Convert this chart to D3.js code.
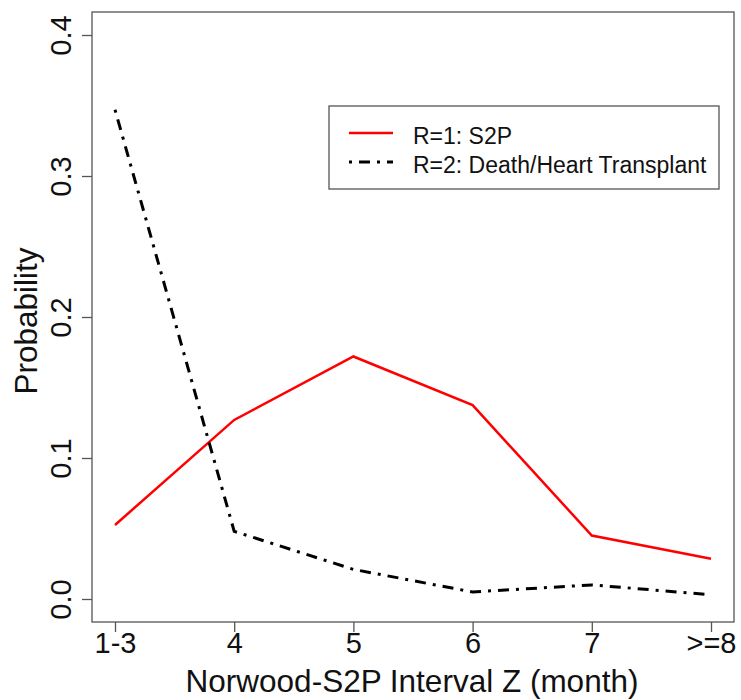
<!DOCTYPE html>
<html>
<head>
<meta charset="utf-8">
<script src="https://cdn.jsdelivr.net/npm/d3@7"></script>
<style>
  body { margin: 0; background: #fff; }
  text { font-family: "Liberation Sans", Arial, sans-serif; fill: #111; }
</style>
</head>
<body>
<div id="chart"></div>
<script>
// chart values
const categories = ["1-3", "4", "5", "6", "7", ">=8"];
const s2p = [0.0525, 0.127, 0.172, 0.1375, 0.045, 0.0285];
const death = [0.347, 0.048, 0.021, 0.005, 0.010, 0.003];
const yTicks = [0.0, 0.1, 0.2, 0.3, 0.4];
const seriesNames = ["R=1: S2P", "R=2: Death/Heart Transplant"];

const width = 741, height = 700;
const box = {left: 92, right: 734, top: 12, bottom: 622};

const svg = d3.select("#chart").append("svg")
  .attr("width", width)
  .attr("height", height);

const x = d3.scalePoint()
  .domain(categories)
  .range([115, 711]);

const y = d3.scaleLinear()
  .domain([0, 0.4])
  .range([599, 35]);

// plot frame
svg.append("rect")
  .attr("x", box.left)
  .attr("y", box.top)
  .attr("width", box.right - box.left)
  .attr("height", box.bottom - box.top)
  .attr("fill", "none")
  .attr("stroke", "#555")
  .attr("stroke-width", 1.3);

// x axis
let xAxis = svg.append("g")
  .attr("transform", `translate(0,${box.bottom})`)
  .call(d3.axisBottom(x).tickSize(10));
xAxis.select(".domain").remove();
xAxis.selectAll("line").attr("stroke", "#555").attr("stroke-width", 1.3);
xAxis.selectAll("text")
  .attr("font-size", 29)
  .attr("fill", "#111")
  .attr("y", 31)
  .attr("dy", null);

// y axis
let yAxis = svg.append("g")
  .attr("transform", `translate(${box.left},0)`)
  .call(d3.axisLeft(y).tickValues(yTicks).tickFormat(d3.format(".1f")).tickSize(10));
yAxis.select(".domain").remove();
yAxis.selectAll("line").attr("stroke", "#555").attr("stroke-width", 1.3);
yAxis.selectAll("text")
  .attr("font-size", 29)
  .attr("fill", "#111")
  .attr("text-anchor", "middle")
  .attr("dy", null)
  .attr("x", null)
  .attr("transform", "translate(-21,0) rotate(-90)");

// axis titles
svg.append("text")
  .attr("x", 412)
  .attr("y", 692)
  .attr("text-anchor", "middle")
  .attr("font-size", 31.5)
  .text("Norwood-S2P Interval Z (month)");

svg.append("text")
  .attr("transform", "translate(37,321) rotate(-90)")
  .attr("text-anchor", "middle")
  .attr("font-size", 31.5)
  .text("Probability");

// lines
const line = d3.line()
  .x((d, i) => x(categories[i]))
  .y(d => y(d));

svg.append("path")
  .datum(s2p)
  .attr("d", line)
  .attr("fill", "none")
  .attr("stroke", "#ff0000")
  .attr("stroke-width", 2.5);

svg.append("path")
  .datum(death)
  .attr("d", line)
  .attr("fill", "none")
  .attr("stroke", "#000")
  .attr("stroke-width", 3)
  .attr("stroke-dasharray", "3,7,11,7");

// legend
let legend = svg.append("g");
legend.append("rect")
  .attr("x", 329)
  .attr("y", 106)
  .attr("width", 390)
  .attr("height", 83)
  .attr("fill", "#fff")
  .attr("stroke", "#555")
  .attr("stroke-width", 1.3);

const legendStyles = [
  {stroke: "#ff0000", width: 2.5, dash: null},
  {stroke: "#000", width: 3, dash: "3,7,11,7"}
];
seriesNames.forEach((name, i) => {
  let ly = 133 + i * 29;
  legend.append("line")
    .attr("x1", 349)
    .attr("x2", 393)
    .attr("y1", ly)
    .attr("y2", ly)
    .attr("stroke", legendStyles[i].stroke)
    .attr("stroke-width", legendStyles[i].width)
    .attr("stroke-dasharray", legendStyles[i].dash);
  legend.append("text")
    .attr("x", 413)
    .attr("y", ly + 11)
    .attr("font-size", 23)
    .text(name);
});
</script>
</body>
</html>
